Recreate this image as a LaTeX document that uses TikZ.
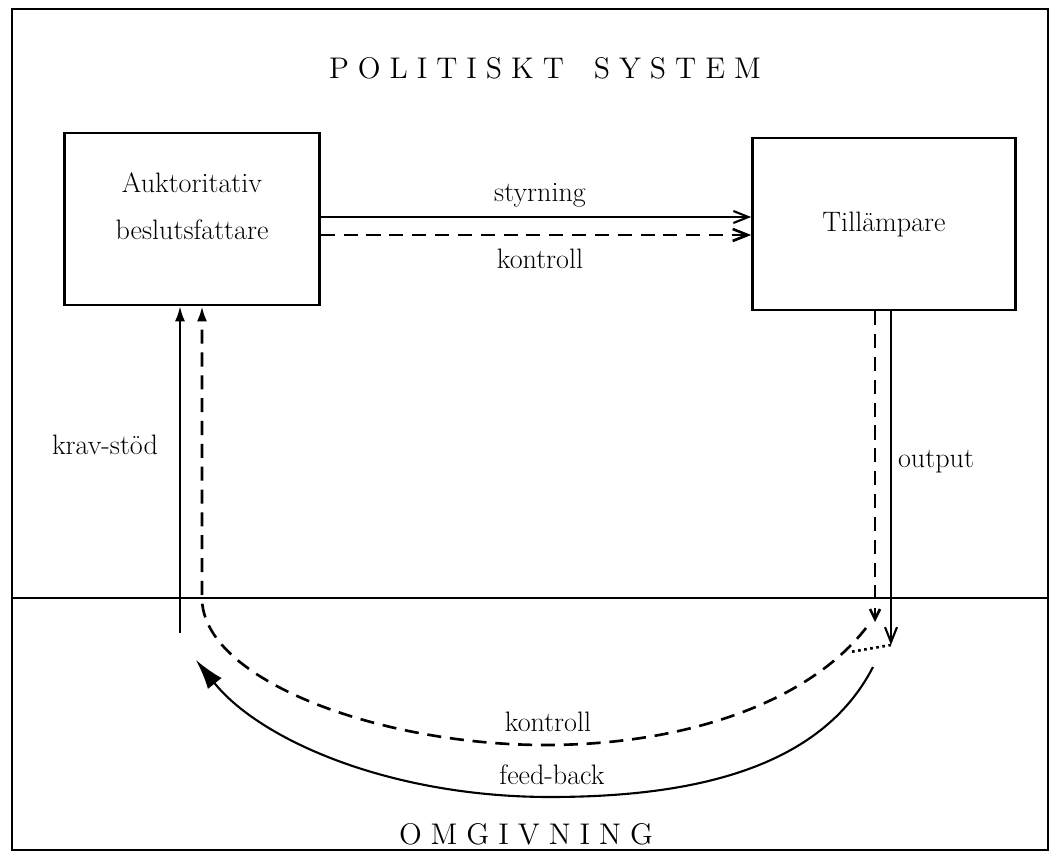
\documentclass[tikz,border=0pt]{standalone}
\usepackage{fontspec}
\usepackage{tikz}
\usetikzlibrary{positioning,arrows.meta}
\newfontfamily\sperrfont[LetterSpace=30,WordSpace=1.6]{lmroman12-regular.otf}

\begin{document}
\begin{tikzpicture}[x=0.02cm, y=-0.02cm,
    box/.style={draw, line width=1.5pt, align=center, minimum height=3.44cm, font=\fontsize{16}{27}\selectfont},
    lbl/.style={inner sep=1pt, font=\fontsize{16}{19}\selectfont},
    titel/.style={inner sep=1pt, font=\sperrfont\fontsize{17}{20}\selectfont},
    sline/.style={line width=1.2pt},
    dline/.style={line width=1.5pt, dash pattern=on 8pt off 5pt}]
    \useasboundingbox (0,0) rectangle (1052,854);
    % ram och gräns
    \draw[sline] (12,9) rectangle (1048,850);
    \draw[sline] (12,598) -- (1048,598);
    \node[titel] (pol) at (545,68) {POLITISKT SYSTEM};
    \node[titel] (omg) at (526,834) {OMGIVNING};
    % rutor
    \node[box, minimum width=5.1cm] (auk) at (192,219) {Auktoritativ\\beslutsfattare\\[-12pt]};
    \node[box, minimum width=5.26cm] (till) at (884,224) {Tillämpare};
    % styrning / kontroll
    \draw[sline, -{Straight Barb[length=3mm,width=2.4mm]}] (auk.east |- 0,217) -- (till.west |- 0,217);
    \draw[dline, -{Straight Barb[length=3mm,width=2.4mm]}] (auk.east |- 0,235) -- (till.west |- 0,235);
    \node[lbl] (sty) at (540,195) {styrning};
    \node[lbl] (kon) at (540,259) {kontroll};
    % krav-stöd
    \coordinate (ks) at (180,633);
    \draw[sline, -{Latex[length=3mm,width=2mm]}] (ks) -- (ks |- auk.south);
    \node[lbl] (krav) at (105,445) {krav-stöd};
    % output
    \coordinate (od) at (875,622);
    \coordinate (os) at (891,645);
    \draw[dline, -{Straight Barb[length=2mm,width=2mm]}] (od |- till.south) -- (od);
    \draw[sline, -{Straight Barb[length=3mm,width=2.4mm]}] (os |- till.south) -- (os);
    \node[lbl] (out) at (936,462) {output};
    % kontroll tillbaka
    \coordinate (kd) at (850,652);
    \coordinate (kr) at (866,628);
    \coordinate (kb) at (545,745);
    \coordinate (kl) at (202,598);
    \draw[line width=1.5pt, dotted] (os) -- (kd);
    \draw[dline, -{Latex[length=3mm,width=2mm]}] (kr) .. controls (810,700) and (690,745) .. (kb)
        .. controls (380,745) and (202,680) .. (kl) -- (kl |- auk.south);
    \node[lbl] (kon2) at (548,722) {kontroll};
    % feed-back
    \coordinate (fr) at (873,667);
    \coordinate (fb) at (550,797);
    \coordinate (fl) at (196,660);
    \draw[sline, -{Latex[length=6mm,width=3.5mm]}] (fr) .. controls (820,770) and (690,797) .. (fb)
        .. controls (390,797) and (260,740) .. (fl);
    \node[lbl] (fbk) at (552,775) {feed-back};
\end{tikzpicture}
\end{document}
